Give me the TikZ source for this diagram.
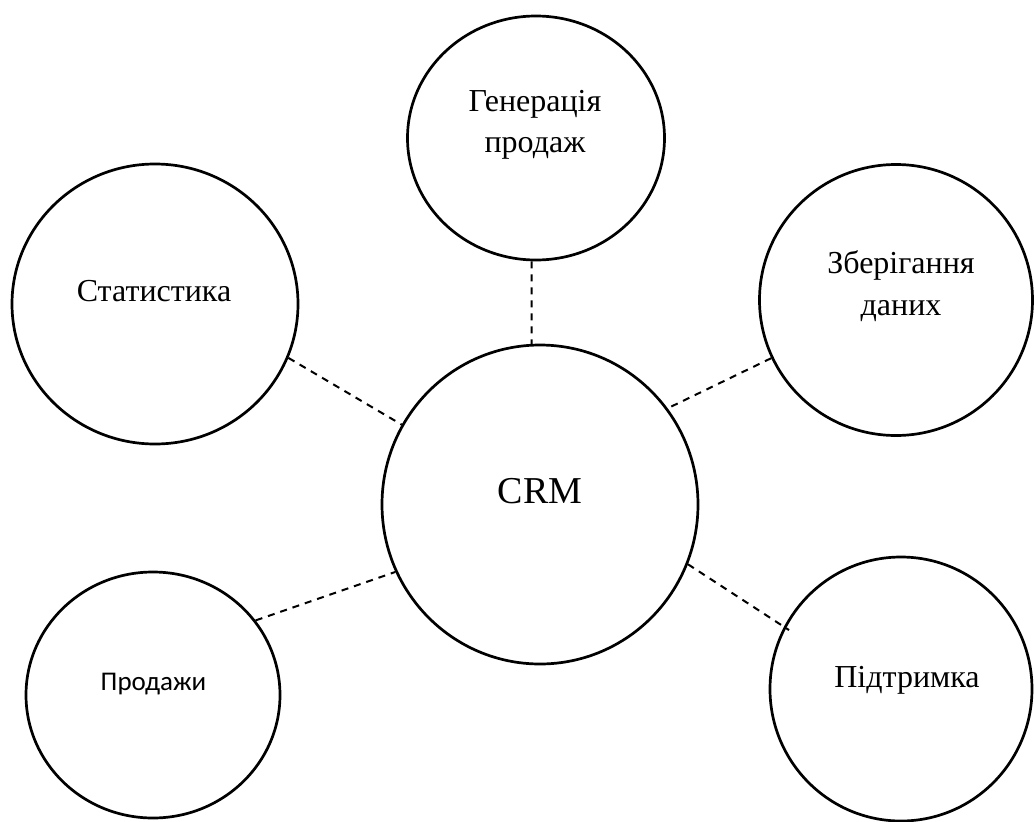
\documentclass[tikz,border=0pt]{standalone}
\usepackage{fontspec}
\setmainfont{Liberation Serif}
\newfontfamily\calibriLike{Carlito}
\usetikzlibrary{shapes.geometric}

\begin{document}
\begin{tikzpicture}[x=1pt,y=-1pt,
  kolo/.style={draw,ellipse,line width=2.7pt,inner sep=0pt},
  napys/.style={font=\fontsize{32}{41.5}\selectfont,align=center,inner sep=0pt},
  zvyazok/.style={line width=2pt,dash pattern=on 7pt off 6pt}]
\useasboundingbox (0,0) rectangle (1034,822);
% kola
\node[kolo,minimum width=316pt,minimum height=319pt] (crm) at (540,504.5) {};
\node[kolo,minimum width=257pt,minimum height=244pt] (gen) at (536,138) {};
\node[kolo,minimum width=286pt,minimum height=280pt] (stat) at (155,304) {};
\node[kolo,minimum width=273pt,minimum height=271pt] (zber) at (896,300) {};
\node[kolo,minimum width=254pt,minimum height=246pt] (prod) at (153,695) {};
\node[kolo,minimum width=262pt,minimum height=264pt] (pidt) at (901,689) {};
% napysy
\node[napys,anchor=base,font=\fontsize{38}{44}\selectfont] (crmText) at (540,503) {CRM};
\node[napys] (genText) at (535,125) {Генерація\\продаж};
\node[napys,anchor=base] (statText) at (154,301) {Статистика};
\node[napys] (zberText) at (901,286) {Зберігання\\даних};
\node[napys,anchor=base,font=\calibriLike\fontsize{27}{32}\selectfont] (prodText) at (153.5,690) {Продажи};
\node[napys,anchor=base] (pidtText) at (907,687) {Підтримка};
% zvyazky
\draw[zvyazok] (gen.268) -- (crm.93);
\draw[zvyazok] (stat.338) -- (crm.150);
\draw[zvyazok] (zber.205) -- (crm.37);
\draw[zvyazok] (prod.36) -- (crm.205);
\draw[zvyazok,shorten >=-6pt] (crm.338) -- (pidt.152);
\end{tikzpicture}
\end{document}
